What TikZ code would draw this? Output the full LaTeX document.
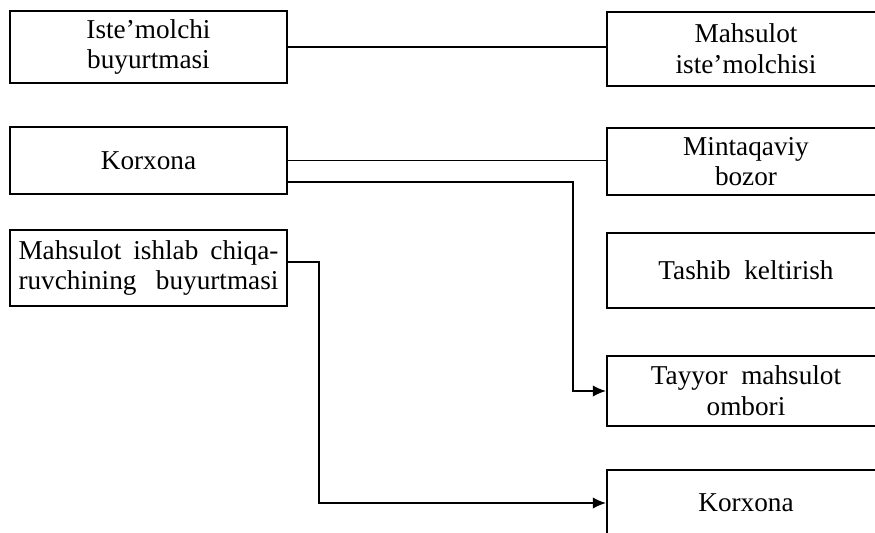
\documentclass[tikz,border=0pt]{standalone}
\usepackage{fontspec}
\setmainfont{Liberation Serif}
\usetikzlibrary{arrows.meta,calc,positioning}

\begin{document}
\begin{tikzpicture}[x=0.02cm,y=-0.02cm,
    box/.style={draw,line width=1.1pt,inner sep=2pt,align=center,font=\fontsize{15.5}{17.5}\selectfont},
    leftbox/.style={box,minimum width=5.54cm},
    rightbox/.style={box,minimum width=5.56cm},
    link/.style={line width=1.1pt},
    arrow/.style={link,-{Latex[length=7.5pt,width=6.5pt]}}]
  \useasboundingbox (0,0) rectangle (875,532);
  % left column
  \node[leftbox,minimum height=1.44cm] (order) at (148.5,47) {Iste'molchi\\buyurtmasi};
  \node[leftbox,minimum height=1.34cm] (firm) at (148.5,160.5) {Korxona};
  \node[leftbox,minimum height=1.52cm] (makerorder) at (148.5,268)
    {\makebox[5.2cm][s]{Mahsulot ishlab chiqa-}\\\makebox[5.2cm][s]{ruvchining buyurtmasi}};
  % right column (open to the right edge)
  \node[rightbox,minimum height=1.48cm] (consumer) at (746,49) {Mahsulot\\iste'molchisi};
  \node[rightbox,minimum height=1.34cm] (market) at (746,161.5) {Mintaqaviy\\bozor};
  \node[rightbox,minimum height=1.5cm] (transport) at (746,270.5) {Tashib\ \ keltirish};
  \node[rightbox,minimum height=1.4cm] (store) at (746,391) {Tayyor\ \ mahsulot\\ombori};
  \node[rightbox,minimum height=1.32cm] (firm2) at (746,503) {Korxona};
  % connectors
  \draw[link] (order.east) -- (order.east -| consumer.west);
  \draw[link] (firm.east) -- (firm.east -| market.west);
  \draw[arrow] ([yshift=-12pt]firm.east) -| ($(store.west)+(-33,0)$) -- (store.west);
  \draw[arrow] ([yshift=3.4pt]makerorder.east) -| ($(firm2.west)+(-287,0)$) -- (firm2.west);
\end{tikzpicture}
\end{document}
